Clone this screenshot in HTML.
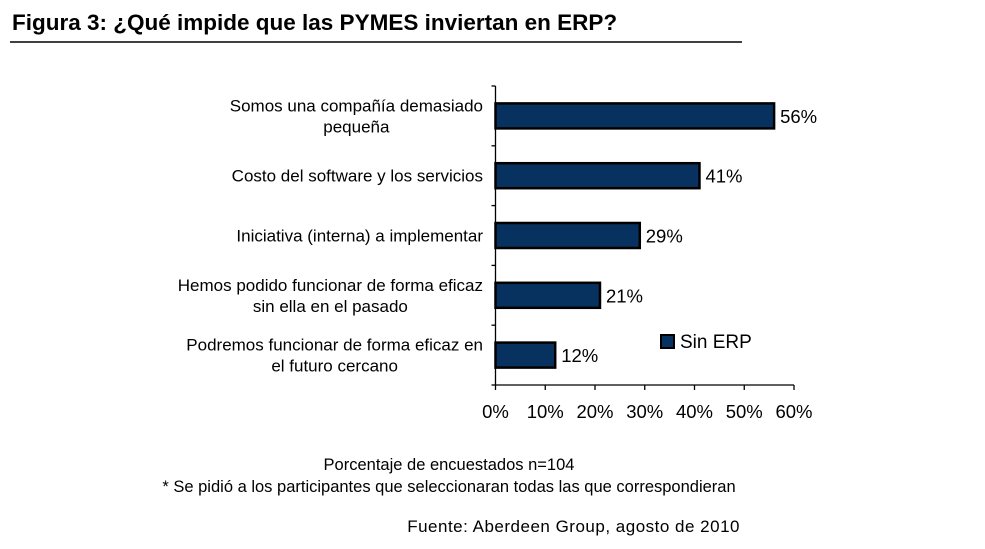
<!DOCTYPE html>
<html><head><meta charset="utf-8"><style>
body{margin:0;background:#fff;width:985px;height:549px;overflow:hidden;font-family:"Liberation Sans",sans-serif}
svg{display:block}
</style></head><body>
<svg width="985" height="549">
<text x="12" y="30" font-size="22.5" font-weight="bold" fill="#000">Figura 3: ¿Qué impide que las PYMES inviertan en ERP?</text>
<line x1="10" y1="42" x2="742" y2="42" stroke="#000" stroke-width="1.5"/>
<g id="plot"></g>
<g>
<rect x="661" y="335" width="13" height="13" fill="#07325f" stroke="#000" stroke-width="2"/>
<text x="680" y="348" font-size="19">Sin ERP</text>
</g>
<text x="449" y="470" font-size="16.5" text-anchor="middle">Porcentaje de encuestados n=104</text>
<text x="449" y="492" font-size="16.5" text-anchor="middle">* Se pidió a los participantes que seleccionaran todas las que correspondieran</text>
<text x="740" y="532" font-size="17" text-anchor="end" letter-spacing="0.5">Fuente: Aberdeen Group, agosto de 2010</text>
</svg>
<script>
const categories=[["Somos una compañía demasiado","pequeña"],["Costo del software y los servicios"],["Iniciativa (interna) a implementar"],["Hemos podido funcionar de forma eficaz","sin ella en el pasado"],["Podremos funcionar de forma eficaz en","el futuro cercano"]];
const values=[56,41,29,21,12];
const ticks=[0,10,20,30,40,50,60];
const NS="http://www.w3.org/2000/svg";
const g=document.getElementById('plot');
const x0=495.5,x1=794,yTop=86,yBot=385;
const xs=v=>x0+(x1-x0)*v/60;
const band=(yBot-yTop)/categories.length;
function mk(t,a,p){const e=document.createElementNS(NS,t);for(const k in a)e.setAttribute(k,a[k]);(p||g).appendChild(e);return e;}
let e=mk('line',{x1:x0,y1:yTop,x2:x0,y2:yBot,stroke:'#000','stroke-width':1.3});


e=mk('line',{x1:x0,y1:yBot,x2:x1,y2:yBot,stroke:'#000','stroke-width':1.3});


for(let i=0;i<=categories.length;i++){const y=yTop+band*i;e=mk('line',{x1:x0-4,y1:y,x2:x0,y2:y,stroke:'#000','stroke-width':1.3});

}
ticks.forEach(t=>{const x=xs(t);e=mk('line',{x1:x,y1:yBot,x2:x,y2:yBot+5,stroke:'#000','stroke-width':1.3});


e=mk('text',{x:x,y:yBot+33,'font-size':18.5,'text-anchor':'middle'});e.textContent=t+'%';

});
values.forEach((v,i)=>{const c=yTop+band*(i+0.5);
e=mk('rect',{x:x0,y:c-12.5,width:xs(v)-x0,height:25,fill:'#07325f',stroke:'#000','stroke-width':2.5});


e=mk('text',{x:xs(v)+6,y:c+7,'font-size':18.5});e.textContent=v+'%';


const lines=categories[i];const els=[];let maxW=0;
lines.forEach((l,j)=>{const y=c+6+(j-(lines.length-1)/2)*21;
e=mk('text',{x:0,y:y,'font-size':17,'text-anchor':'middle'});e.textContent=l;


els.push(e);maxW=Math.max(maxW,e.getComputedTextLength());});
els.forEach(t=>t.setAttribute('x',483-maxW/2));});
</script>
</body></html>
